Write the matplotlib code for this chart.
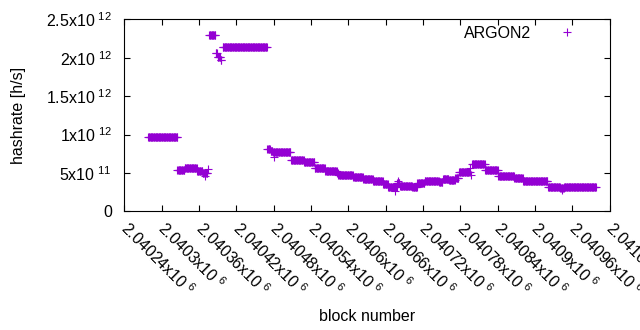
import numpy as np
import matplotlib
matplotlib.use("Agg")
import matplotlib.pyplot as plt
from matplotlib.transforms import ScaledTranslation

# piecewise-constant hashrate: (first block, last block, value)
seg_start = [2040278, 2040325, 2040337, 2040357, 2040366, 2040374,
             2040376, 2040387, 2040390, 2040395, 2040398,
             2040470, 2040475, 2040479, 2040508, 2040529, 2040546, 2040563,
             2040582, 2040584, 2040608, 2040624, 2040640, 2040656, 2040664,
             2040679, 2040683, 2040703, 2040711, 2040723, 2040746, 2040752,
             2040762, 2040772, 2040778, 2040799, 2040820, 2040841, 2040867,
             2040881, 2040921, 2040941, 2040947]
seg_end = [2040325, 2040336, 2040356, 2040365, 2040373, 2040374,
           2040386, 2040389, 2040394, 2040396, 2040469,
           2040474, 2040478, 2040507, 2040528, 2040545, 2040562, 2040581,
           2040583, 2040607, 2040623, 2040639, 2040655, 2040663, 2040678,
           2040682, 2040702, 2040710, 2040722, 2040745, 2040751, 2040761,
           2040771, 2040777, 2040795, 2040819, 2040840, 2040866, 2040880,
           2040920, 2040940, 2040946, 2040998]
seg_value = [9.65e11, 5.4e11, 5.6e11, 5.27e11, 4.97e11, 5.5e11,
             2.30e12, 2.06e12, 2.01e12, 1.97e12, 2.136e12,
             8.1e11, 7.9e11, 7.7e11, 6.65e11, 6.4e11, 5.6e11, 5.23e11,
             5.05e11, 4.7e11, 4.45e11, 4.19e11, 3.93e11, 3.54e11, 3.15e11,
             3.7e11, 3.32e11, 3.15e11, 3.67e11, 3.93e11, 3.85e11, 4.2e11,
             4.1e11, 4.3e11, 5.1e11, 6.14e11, 5.36e11, 4.58e11, 4.32e11,
             3.93e11, 3.15e11, 3.0e11, 3.15e11]

# single stray blocks
odd_block = [2040370, 2040480, 2040675, 2040680, 2040796, 2040797, 2040943]
odd_value = [4.6e11, 7.1e11, 2.7e11, 3.97e11, 5.6e11, 4.7e11, 2.85e11]

ytick_vals = [0, 5e11, 1e12, 1.5e12, 2e12, 2.5e12]
ytick_text = ["0", "5x10$^{\\ 11}$", "1x10$^{\\ 12}$", "1.5x10$^{\\ 12}$",
              "2x10$^{\\ 12}$", "2.5x10$^{\\ 12}$"]
xtick_vals = list(range(2040240, 2041021, 60))

plt.rcParams["font.family"] = ["Liberation Sans", "DejaVu Sans"]
plt.rcParams["mathtext.fontset"] = "custom"
plt.rcParams["mathtext.rm"] = "Liberation Sans"
plt.rcParams["mathtext.default"] = "regular"
plt.rcParams["font.size"] = 11.5

color = "#9400d3"

blocks = []
rates = []
for s, e, v in zip(seg_start, seg_end, seg_value):
    b = np.arange(s, e + 1)
    blocks.append(b)
    rates.append(np.full(len(b), v))
blocks.append(np.array(odd_block))
rates.append(np.array(odd_value))
blocks = np.concatenate(blocks)
rates = np.concatenate(rates)

fig = plt.figure(figsize=(6.4, 3.3), dpi=100)
ax = fig.add_axes([0.1944, 0.3591, 0.9525 - 0.1944, 0.9415 - 0.3591])

ax.plot(blocks, rates, linestyle="none", marker="+", color=color,
        markersize=5.2, markeredgewidth=0.8, label="ARGON2")

ax.set_xlim(2040240, 2041020)
ax.set_ylim(0, 2.5e12)

ax.set_yticks(ytick_vals)
ax.set_yticklabels(ytick_text)
ax.set_xticks(xtick_vals)
ax.set_xticklabels(["%gx10$^{\\ 6}$" % (v / 1e6) for v in xtick_vals],
                   rotation=-45, ha="left", va="top", rotation_mode="anchor")

ax.tick_params(direction="in", length=4, width=0.8, top=True, right=True,
               labelsize=11.5)
ax.tick_params(axis="y", pad=9)
ax.tick_params(axis="x", pad=5)
shift = ScaledTranslation(0.06, 0.0, fig.dpi_scale_trans)
for lbl in ax.get_xticklabels():
    lbl.set_transform(lbl.get_transform() + shift)
for sp in ax.spines.values():
    sp.set_linewidth(0.8)

ax.set_xlabel("block number", va="center")
ax.xaxis.set_label_coords(0.5, -0.545)
ax.set_ylabel("hashrate [h/s]", va="center")
ax.yaxis.set_label_coords(-0.219, 0.5)

ax.legend(loc="upper right", bbox_to_anchor=(0.972, 0.965), frameon=False,
          markerfirst=False, handlelength=3.6, handletextpad=0.45,
          borderaxespad=0, borderpad=0, fontsize=11.5)

fig.savefig("out.png", dpi=100)
